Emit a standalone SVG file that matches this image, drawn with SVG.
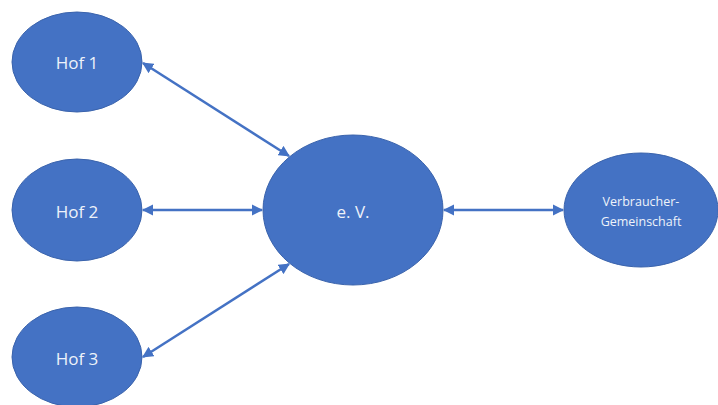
<svg xmlns="http://www.w3.org/2000/svg" width="718" height="405" viewBox="0 0 718 405">
<style>
.node{fill:#4472C4;stroke:#3A63AC;stroke-width:1}
.lbl{fill:#EEF2FA;font-family:"Open Sans","Liberation Sans",sans-serif;font-size:17px;text-anchor:middle;dominant-baseline:central}
.sm{font-size:12.5px}
.con{stroke:#4472C4;stroke-width:2.5;fill:none;marker-start:url(#ah);marker-end:url(#ah)}
</style>
<defs>
<marker id="ah" viewBox="0 0 10 10" refX="9" refY="5" markerWidth="4.5" markerHeight="4.5" orient="auto-start-reverse" markerUnits="strokeWidth">
<path d="M0,0 L10,5 L0,10 z" fill="#4472C4"/>
</marker>
</defs>
<rect width="718" height="405" fill="#fff"/>
<g id="connectors">
<line class="con" x1="143" y1="63" x2="289" y2="156"/>
<line class="con" x1="143" y1="210" x2="262" y2="210"/>
<line class="con" x1="143" y1="357" x2="289" y2="264"/>
<line class="con" x1="444" y1="210" x2="563" y2="210"/>
</g>
<g id="hof1"><ellipse class="node" cx="77" cy="62" rx="65" ry="50"/><text class="lbl" x="77" y="62">Hof 1</text></g>
<g id="hof2"><ellipse class="node" cx="77" cy="210" rx="65" ry="51"/><text class="lbl" x="77" y="211">Hof 2</text></g>
<g id="hof3"><ellipse class="node" cx="77" cy="357" rx="65" ry="50"/><text class="lbl" x="77" y="358">Hof 3</text></g>
<g id="ev"><ellipse class="node" cx="353" cy="210" rx="90" ry="75"/><text class="lbl" x="353" y="211">e. V.</text></g>
<g id="verbraucher"><ellipse class="node" cx="641" cy="210" rx="77" ry="57"/><text class="lbl sm" x="641" y="201">Verbraucher-</text><text class="lbl sm" x="641" y="221">Gemeinschaft</text></g>
</svg>
